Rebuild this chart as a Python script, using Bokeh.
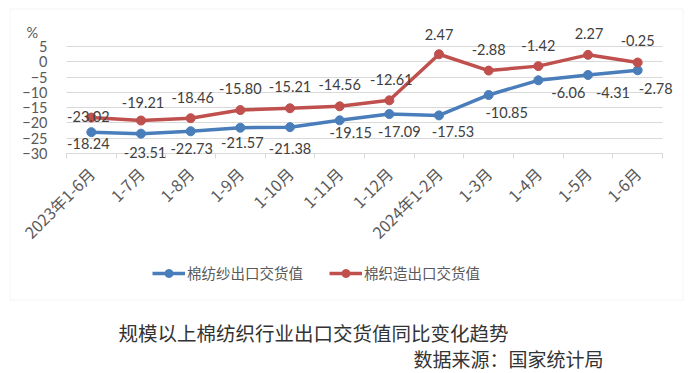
import math
from bokeh.plotting import figure
from bokeh.models import (ColumnDataSource, Range1d, FixedTicker, LabelSet, Label,
                          Legend, LegendItem, BoxAnnotation, LinearAxis, Grid)
from bokeh.core.properties import value
from bokeh.embed import file_html
from bokeh.resources import INLINE

# ---------------- data ----------------
categories = ["2023年1-6月", "1-7月", "1-8月", "1-9月", "1-10月", "1-11月", "1-12月",
              "2024年1-2月", "1-3月", "1-4月", "1-5月", "1-6月"]
yarn_values = [-23.02, -23.51, -22.73, -21.57, -21.38, -19.15, -17.09, -17.53,
               -10.85, -6.06, -4.31, -2.78]          # 棉纺纱出口交货值
weave_values = [-18.24, -19.21, -18.46, -15.80, -15.21, -14.56, -12.61, 2.47,
                -2.88, -1.42, 2.27, -0.25]           # 棉织造出口交货值
series_names = ["棉纺纱出口交货值", "棉织造出口交货值"]
y_ticks = [-30, -25, -20, -15, -10, -5, 0, 5]
unit_text = "%"
title_text = "规模以上棉纺织行业出口交货值同比变化趋势"
source_text = "数据来源：国家统计局"

# ---------------- label placement (screen px, y up) ----------------
yarn_dx = [-3, 4, 1, 2, 0, 11, 10, 14, 18, 30, 25, 18]
yarn_dy = [16, -19, -17, -15, -21, -12, -17, -16, -18, -12, -18, -18]
weave_dx = [-3, 2, 2, 0, 0, 0, 2, 0, 0, 0, 1, 0]
weave_dy = [-26, 18, 21, 22, 22, 22, 21, 20, 21, 21, 21, 22]

BLUE = "#4a7ebb"
RED = "#c0504d"
GRID = "#d9d9d9"
AXIS_TXT = "#595959"
CJK = "Noto Sans CJK SC"

# ---------------- layout (pixels of the canvas) ----------------
W, H = 690, 372
PL, PR, PT, PB = 66, 662, 46, 153          # value area: left, right, top(5), bottom(-30)
n = len(categories)
ppx = (PR - PL) / n
ppy = (PB - PT) / (y_ticks[-1] - y_ticks[0])
x_start = -0.5 - PL / ppx
x_end = x_start + W / ppx
y_end = y_ticks[-1] + PT / ppy
y_start = y_end - H / ppy


def X(px):
    return x_start + px / ppx


def Y(py):
    return y_end - py / ppy


xs = list(range(n))

p = figure(width=W, height=H, x_range=Range1d(x_start, x_end), y_range=Range1d(y_start, y_end),
           x_axis_location=None, y_axis_location=None, min_border=0,
           output_backend="svg", toolbar_location=None, title=None)
p.outline_line_color = None
p.background_fill_color = "white"
p.border_fill_color = "white"
p.xgrid.visible = False
p.ygrid.visible = False

# grid lines limited to the value area
if "cross_bounds" in Grid.properties():
    p.add_layout(Grid(dimension=1, ticker=FixedTicker(ticks=y_ticks), cross_bounds=(-0.5, n - 0.5),
                      grid_line_color=GRID, grid_line_width=1))
else:
    p.segment(x0=[-0.5] * len(y_ticks), x1=[n - 0.5] * len(y_ticks), y0=y_ticks, y1=y_ticks,
              line_color=GRID, line_width=1)

# axes
xaxis = LinearAxis(fixed_location=y_ticks[0], bounds=(-0.5, n - 0.5),
                   ticker=FixedTicker(ticks=xs, minor_ticks=[i - 0.5 for i in range(n + 1)]),
                   major_label_overrides={i: c for i, c in enumerate(categories)},
                   major_label_orientation=math.pi / 4,
                   axis_line_color=GRID, major_tick_in=0, major_tick_out=0,
                   minor_tick_in=0, minor_tick_out=5, minor_tick_line_color=GRID,
                   major_label_standoff=12, major_label_text_font=CJK,
                   major_label_text_font_size="16px", major_label_text_color=AXIS_TXT)
p.add_layout(xaxis, "below")
yaxis = LinearAxis(fixed_location=-0.5, ticker=FixedTicker(ticks=y_ticks),
                   axis_line_color=None, major_tick_line_color=None, minor_tick_line_color=None,
                   major_tick_in=0, major_tick_out=0, major_label_standoff=19,
                   major_label_text_font="Lato", major_label_text_font_size="14.5px",
                   major_label_text_color=AXIS_TXT)
p.add_layout(yaxis, "left")

# series
src_yarn = ColumnDataSource(dict(x=xs, y=yarn_values,
                                 text=[f"{v:.2f}" for v in yarn_values],
                                 dx=yarn_dx, dy=yarn_dy))
src_weave = ColumnDataSource(dict(x=xs, y=weave_values,
                                  text=[f"{v:.2f}" for v in weave_values],
                                  dx=weave_dx, dy=weave_dy))

l1 = p.line("x", "y", source=src_yarn, line_width=3.5, line_color=BLUE, line_join="round")
s1 = p.scatter("x", "y", source=src_yarn, size=9, fill_color=BLUE, line_color=BLUE)
l2 = p.line("x", "y", source=src_weave, line_width=3.5, line_color=RED, line_join="round")
s2 = p.scatter("x", "y", source=src_weave, size=9, fill_color=RED, line_color=RED)

for src in (src_yarn, src_weave):
    p.add_layout(LabelSet(x="x", y="y", text="text", source=src,
                          x_offset="dx", y_offset="dy",
                          text_align="center", text_baseline="middle",
                          text_font=value("Lato"), text_font_size="14.5px",
                          text_color="#404040"))

legend = Legend(items=[LegendItem(label=series_names[0], renderers=[l1, s1]),
                       LegendItem(label=series_names[1], renderers=[l2, s2])],
                orientation="horizontal", location=(152, H - 283),
                border_line_color=None, background_fill_alpha=0,
                padding=0, margin=0, spacing=26, glyph_width=33, glyph_height=20,
                label_standoff=2, label_text_font=CJK,
                label_text_font_size="14.5px", label_text_color=AXIS_TXT)
p.add_layout(legend)

# unit, chart box, captions
p.add_layout(Label(x=X(26), y=Y(32), text=unit_text, text_align="left", text_baseline="middle",
                   text_font="Lato", text_font_size="14.5px", text_color=AXIS_TXT))
p.add_layout(BoxAnnotation(left=X(9.5), right=X(682.5), top=Y(8.5), bottom=Y(299.5),
                           fill_alpha=0, line_color=GRID, line_width=1))
p.add_layout(Label(x=X(118), y=Y(332), text=title_text, text_align="left",
                   text_baseline="middle", text_font=CJK, text_font_size="19.5px",
                   text_color="#333333"))
p.add_layout(Label(x=X(603), y=Y(358), text=source_text, text_align="right",
                   text_baseline="middle", text_font=CJK, text_font_size="19px",
                   text_color="#333333"))

open("out.html", "w").write(file_html(p, INLINE))
